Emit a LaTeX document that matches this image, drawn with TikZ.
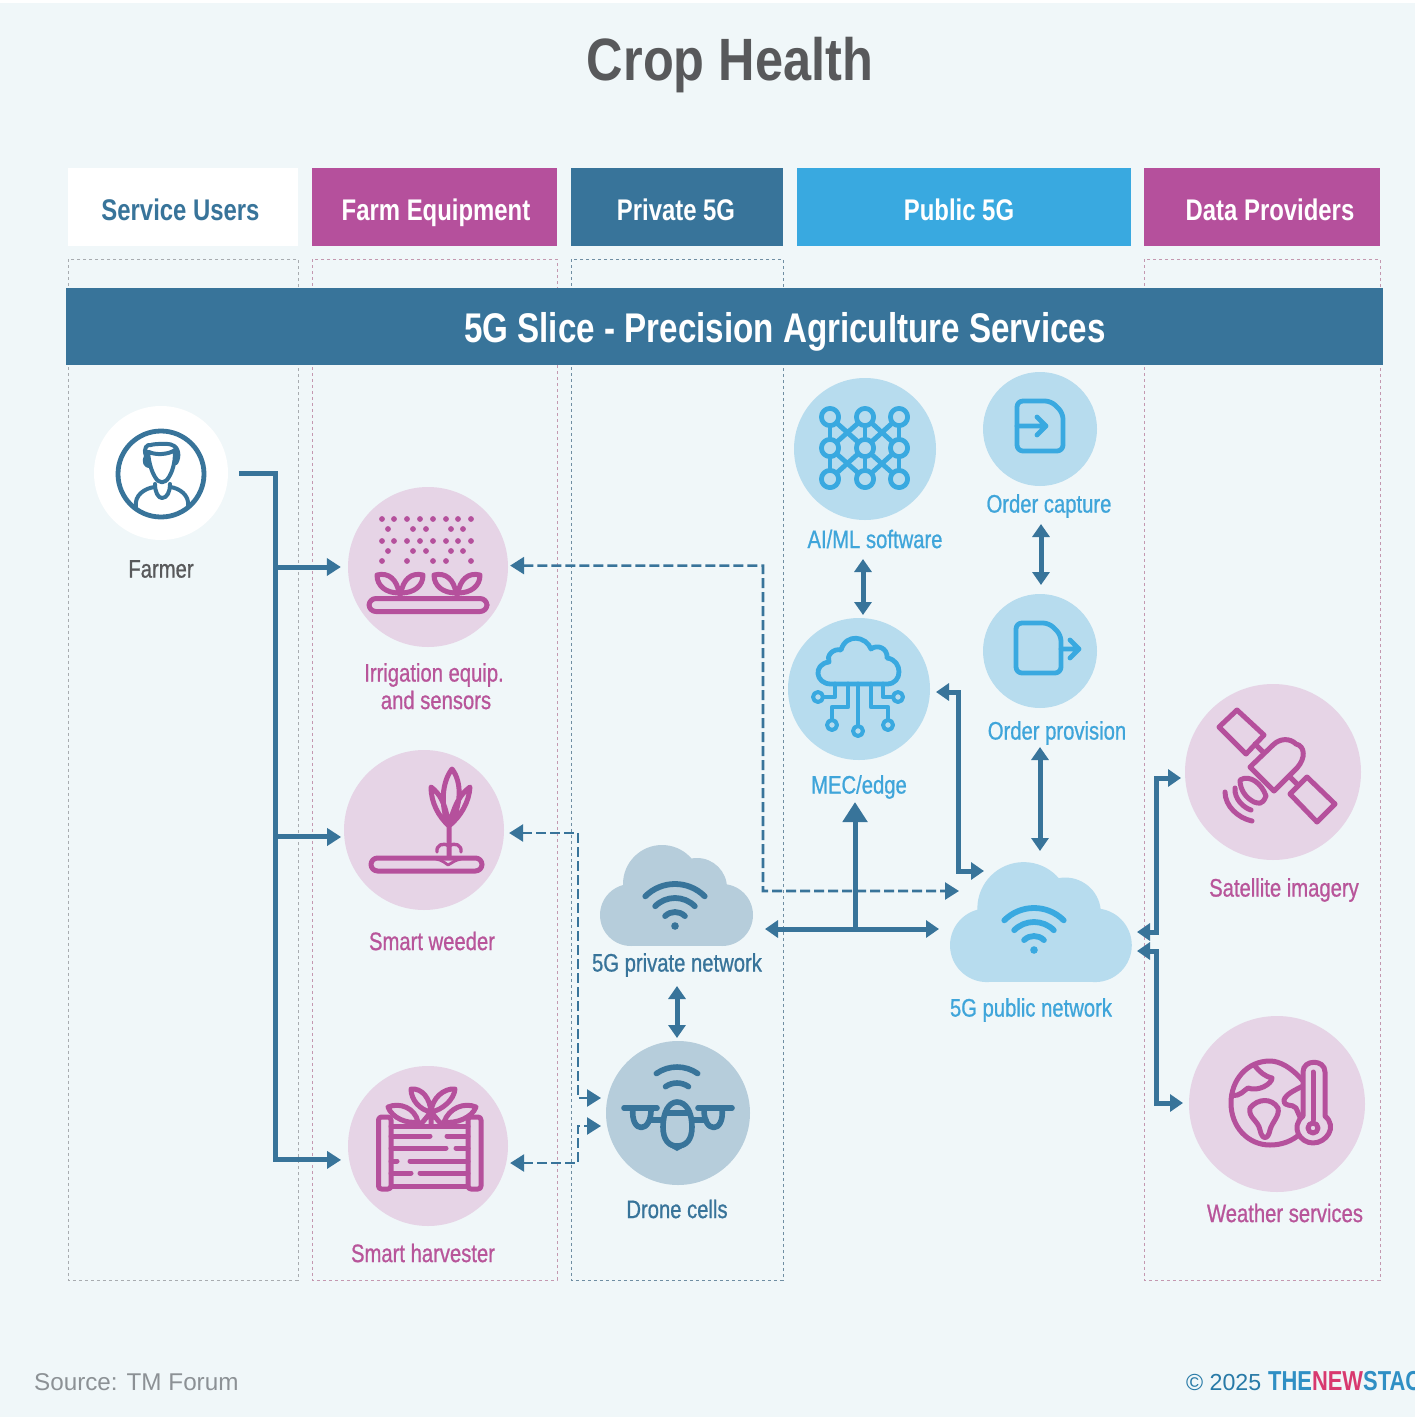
\documentclass[tikz,border=0pt]{standalone}
\usepackage{fontspec}
\usetikzlibrary{arrows.meta,calc}
\setmainfont{Liberation Sans}
\newfontfamily\cond[FakeStretch=0.8,FakeBold=0.8]{Liberation Sans}
\newfontfamily\condb[FakeStretch=0.8]{Liberation Sans Bold}
\newfontfamily\condt[FakeStretch=0.845]{Liberation Sans Bold}
\definecolor{bgc}{HTML}{F0F7F9}
\definecolor{steel}{HTML}{38749A}
\definecolor{sky}{HTML}{39A9E0}
\definecolor{skytx}{HTML}{3FA5DA}
\definecolor{mag}{HTML}{B5509C}
\definecolor{magtx}{HTML}{B8559A}
\definecolor{pinkc}{HTML}{E6D4E6}
\definecolor{bluec}{HTML}{B7DCEE}
\definecolor{steelc}{HTML}{B6CDDB}
\definecolor{greyt}{HTML}{58595B}
\definecolor{greys}{HTML}{8C9195}
\definecolor{logob}{HTML}{2F8FC4}
\definecolor{logor}{HTML}{D8396F}
\definecolor{boxg}{HTML}{A8ACB0}
\definecolor{boxp}{HTML}{C498B0}
\definecolor{boxs}{HTML}{6F8EA3}
\newcommand{\wifisign}[3]{%
  \fill[#3] (#1,#2) circle[radius=3.8];
  \foreach \r in {14,28,42}{
    \draw[#3,line width=.29cm,line cap=round] ({#1-0.707*\r},{#2-0.707*\r}) arc[start angle=135,end angle=45,radius=\r*0.05cm];
  }}
\newcommand{\cloudshape}[4]{%
  \begin{scope}[shift={(#1,#2)},scale=#3]
    \fill[#4] (-15,-11) circle[radius=39];
    \fill[#4] (20,-7) circle[radius=30];
    \fill[#4] (45,20) circle[radius=31];
    \fill[#4] (-46,20) circle[radius=31];
    \fill[#4] (-46,-5) rectangle (45,51);
  \end{scope}}
\tikzset{
  hdr/.style={minimum height=3.9cm,inner sep=0},
  hdrt/.style={inner sep=0,anchor=base,font=\condb\fontsize{42.5}{46}\selectfont,text=white},
  zone/.style={line width=.045cm,dash pattern=on .16cm off .14cm},
  disc/.style={circle,inner sep=0,minimum size=#1*0.1cm},
  lbl/.style={inner sep=0,align=center,font=\cond\fontsize{36}{40}\selectfont},
  conn/.style={draw=steel,line width=.25cm},
  dual/.style={conn,{Triangle[length=.65cm,width=.85cm]}-{Triangle[length=.65cm,width=.85cm]}},
  oneway/.style={conn,-{Triangle[length=.7cm,width=.85cm]}},
  dashc/.style={draw=steel,line width=.13cm,dash pattern=on .5cm off .2cm,{Triangle[length=.7cm,width=.85cm]}-{Triangle[length=.7cm,width=.85cm]}},
  gapS/.style={shorten <=#1*0.05cm},
  gapE/.style={shorten >=#1*0.05cm},
  icm/.style={draw=mag,line width=.25cm,line cap=round,line join=round},
  ics/.style={draw=sky,line width=.24cm,line cap=round,line join=round},
  ict/.style={draw=steel,line width=.28cm,line cap=round,line join=round},
}
\begin{document}
\begin{tikzpicture}[x=0.05cm,y=-0.05cm]
\useasboundingbox (0,0) rectangle (1415,1423);
\begin{scope}
\clip (0,0) rectangle (1415,1423);
\fill[white] (0,0) rectangle (1415,1423);
\fill[bgc] (0,3) rectangle (1415,1417);

\node[inner sep=0,anchor=base,font=\condt\fontsize{85}{90}\selectfont,text=greyt] (title) at (730,80) {Crop Health};

% dashed zones
\draw[zone,boxg] (68,259) rectangle (298,1280);
\draw[zone,boxp] (312,259) rectangle (557,1280);
\draw[zone,boxs] (571,259) rectangle (783,1280);
\draw[zone,boxp] (1144,259) rectangle (1380,1280);

% header tabs
\node[hdr,fill=white,minimum width=11.5cm] (h1) at (183,207) {};
\node[hdr,fill=mag,minimum width=12.25cm] (h2) at (434.5,207) {};
\node[hdr,fill=steel,minimum width=10.6cm] (h3) at (677,207) {};
\node[hdr,fill=sky,minimum width=16.7cm] (h4) at (963.5,207) {};
\node[hdr,fill=mag,minimum width=11.8cm] (h5) at (1262,207) {};
\node[hdrt,text=steel] (t1) at (180.5,220) {Service Users};
\node[hdrt] (t2) at (436,220) {Farm Equipment};
\node[hdrt] (t3) at (676,220) {Private 5G};
\node[hdrt] (t4) at (959,220) {Public 5G};
\node[hdrt] (t5) at (1270,220) {Data Providers};
\node[fill=steel,minimum width=65.85cm,minimum height=3.85cm,inner sep=0] (band) at (724.5,326.5) {};
\node[inner sep=0,anchor=base,font=\condb\fontsize{59}{64}\selectfont,text=white] (bandt) at (785,342) {5G Slice - Precision Agriculture Services};

% discs
\node[disc=67,fill=white] (farmer) at (161,473) {};
\node[disc=80,fill=pinkc] (irr) at (428,567) {};
\node[disc=80,fill=pinkc] (weed) at (424,830) {};
\node[disc=80,fill=pinkc] (harv) at (428,1146) {};
\node[disc=72,fill=steelc] (drone) at (678,1113) {};
\node[disc=71,fill=bluec] (ai) at (865,449) {};
\node[disc=57,fill=bluec] (capt) at (1040,429) {};
\node[disc=57,fill=bluec] (prov) at (1040,651) {};
\node[disc=71,fill=bluec] (mec) at (859,689) {};
\node[disc=88,fill=pinkc] (sat) at (1273,772) {};
\node[disc=88,fill=pinkc] (wea) at (1277,1104) {};

% clouds
\cloudshape{677}{895}{1}{steelc}
\cloudshape{1041.5}{921.5}{1.188}{bluec}
\node[inner sep=0,minimum width=7.7cm,minimum height=5cm] (priv) at (677,895) {};
\node[inner sep=0,minimum width=9.15cm,minimum height=6.1cm] (pub) at (1041.5,921) {};
\wifisign{675}{926}{steel}
\wifisign{1034}{950}{sky}

% labels
\node[lbl,text=greyt] (lfarmer) at (161,569) {Farmer};
\node[lbl,text=magtx] (lirr1) at (434,675) {Irrigation equip.};
\node[lbl,text=magtx] (lirr2) at (436,700) {and sensors};
\node[lbl,text=magtx] (lweed) at (432,941) {Smart weeder};
\node[lbl,text=magtx] (lharv) at (423,1253) {Smart harvester};
\node[lbl,text=steel] (lpriv) at (677,965) {5G private network};
\node[lbl,text=steel] (ldrone) at (677,1209) {Drone cells};
\node[lbl,text=skytx] (lai) at (875,539) {AI/ML software};
\node[lbl,text=skytx] (lcapt) at (1049,506) {Order capture};
\node[lbl,text=skytx] (lprov) at (1057,733) {Order provision};
\node[lbl,text=skytx] (lmec) at (859,787) {MEC/edge};
\node[lbl,text=skytx] (lpub) at (1031,1010) {5G public network};
\node[lbl,text=magtx] (lsat) at (1284,890) {Satellite imagery};
\node[lbl,text=magtx] (lwea) at (1285,1213) {Weather services};

% connectors: bend points
\coordinate (tr) at (275,473);
\coordinate (dA) at (763,565.6);
\coordinate (dB) at (763,891);
\coordinate (dEnd) at (959,891);
\coordinate (eA) at (578,833);
\coordinate (eB) at (578,1098);
\coordinate (eEnd) at (601,1098);
\coordinate (fB) at (578,1126);
\coordinate (fEnd) at (601,1126);
\coordinate (pL) at (765,929);
\coordinate (pR) at (939,929);
\coordinate (pM) at (855,929);
\coordinate (pU) at (855,802);
\coordinate (mA) at (936,692);
\coordinate (mB) at (958,692);
\coordinate (mC) at (958,871);
\coordinate (mEnd) at (984,871);
\coordinate (oA) at (1040,747);
\coordinate (oB) at (1040,851);
\coordinate (cA) at (1041,524);
\coordinate (cB) at (1041,585);
\coordinate (aA) at (863,559);
\coordinate (aB) at (863,615);
\coordinate (vA) at (677,986);
\coordinate (vB) at (677,1038);
\coordinate (sA) at (1137,932);
\coordinate (sB) at (1156,932);
\coordinate (sC) at (1156,778);
\coordinate (sEnd) at (1181,778);
\coordinate (wA) at (1137,951);
\coordinate (wB) at (1156,951);
\coordinate (wC) at (1156,1103);
\coordinate (wEnd) at (1183,1103);

\draw[oneway,gapS=11,gapE=8] (farmer.east) -- (tr) -- (tr |- harv.190) -- (harv.190);
\draw[oneway,gapE=7] (tr |- irr.west) -- (irr.west);
\draw[oneway,gapE=3] (tr |- weed.185) -- (weed.185);
\draw[dashc,gapS=2] (irr.1) -- (dA) -- (dB) -- (dEnd);
\draw[dashc,gapS=5] (weed.east |- eA) -- (eA) -- (eB) -- (eEnd);
\draw[dashc,gapS=2] (harv.east |- 0,1163) -- (578,1163) -- (fB) -- (fEnd);
\draw[dual] (pL) -- (pR);
\draw[conn,-{Triangle[length=1cm,width=1.2cm]}] (pM) -- (pU);
\draw[dual] (mA) -- (mB) -- (mC) -- (mEnd);
\draw[dual] (oA) -- (oB);
\draw[dual] (cA) -- (cB);
\draw[dual] (aA) -- (aB);
\draw[dual] (vA) -- (vB);
\draw[dual] (sA) -- (sB) -- (sC) -- (sEnd);
\draw[dual] (wA) -- (wB) -- (wC) -- (wEnd);

% farmer icon
\draw[draw=steel,line width=.24cm] (161,474) circle[radius=43];
\draw[draw=steel,line width=.2cm,line join=round,line cap=round]
  (148,452) .. controls (149,464) and (152,472) .. (155,477) .. controls (159,484) and (165,484) .. (169,477) .. controls (172,472) and (175,464) .. (175,452)
  (146,456) .. controls (143,448) and (147,444) .. (151,445) .. controls (152,444) and (170,443) .. (172,445) .. controls (179,447) and (180,457) .. (176,463)
  (149,452) .. controls (155,455) and (168,455) .. (175,450)
  (146,456) .. controls (143,462) and (146,466) .. (149,466)
  (155,484) .. controls (155,492) and (158,498) .. (162,498) .. controls (167,498) and (170,492) .. (170,484)
  (136,507) .. controls (134,495) and (145,488) .. (155,487)
  (188,507) .. controls (190,495) and (179,488) .. (170,487);

% irrigation icon
\foreach \yy in {519,541}{\foreach \xx in {382,394,407,420,433,446,458,471}{\fill[mag] (\xx,\yy) circle[radius=2.9];}}
\foreach \yy in {529,551}{\foreach \xx in {388,413,426,451,463}{\fill[mag] (\xx,\yy) circle[radius=2.9];}}
\foreach \xx in {382,407,433,446,471}{\fill[mag] (\xx,561) circle[radius=2.9];}
\draw[icm,rounded corners=.35cm] (369,598.5) rectangle (487,611.5);
\foreach \xx in {400,457}{
  \draw[icm] (\xx,598) -- (\xx,592)
    (\xx-1,593) .. controls (\xx-14,593) and (\xx-23,586) .. (\xx-23,575) .. controls (\xx-11,572) and (\xx-3,580) .. (\xx-1,593)
    (\xx+1,593) .. controls (\xx+14,593) and (\xx+23,586) .. (\xx+23,575) .. controls (\xx+11,572) and (\xx+3,580) .. (\xx+1,593);
}

% weeder icon
\draw[icm,rounded corners=.33cm] (371,858) rectangle (482,871);
\draw[icm,line width=.14cm] (436,859) .. controls (442,860) and (445,863) .. (448,865) .. controls (452,863) and (455,860) .. (461,859);
\draw[icm] (449,826) .. controls (440,805) and (442,782) .. (452,769) .. controls (462,782) and (462,805) .. (449,826)
  (449,826) .. controls (438,816) and (431,802) .. (431,787) .. controls (440,794) and (445,802) .. (449,826)
  (449,826) .. controls (461,816) and (469,802) .. (470,787) .. controls (461,794) and (455,802) .. (449,826)
  (449,826) -- (449,857);
\draw[icm,line width=.17cm] (449,846) .. controls (443,842) and (436,845) .. (437,852)
  (449,846) .. controls (455,842) and (462,845) .. (461,852);

% harvester icon
\draw[icm,rounded corners=.15cm] (378.5,1117) rectangle (391,1189);
\draw[icm,rounded corners=.15cm] (468,1117) rectangle (481,1189);
\draw[icm] (391,1126) -- (468,1126) (391,1186) -- (468,1186)
  (391,1136) -- (430,1136) (447,1136) -- (468,1136)
  (391,1148) -- (446,1148) (456,1148) -- (468,1148)
  (391,1161) -- (397,1161) (410,1161) -- (468,1161)
  (391,1173) -- (411,1173) (420,1173) -- (468,1173);
\draw[icm] (431,1112) .. controls (420,1110) and (411,1100) .. (411,1089) .. controls (422,1088) and (430,1098) .. (431,1112)
  (431,1112) .. controls (442,1110) and (454,1100) .. (455,1089) .. controls (444,1088) and (432,1098) .. (431,1112)
  (418,1122) .. controls (407,1124) and (392,1118) .. (388,1107) .. controls (400,1102) and (415,1108) .. (418,1122)
  (444,1122) .. controls (455,1124) and (472,1118) .. (476,1107) .. controls (464,1102) and (449,1108) .. (444,1122)
  (431,1112) -- (431,1124) (431,1112) -- (421,1124) (431,1112) -- (441,1124);

% drone icon
\draw[ict] (624,1108) -- (657,1108) (698,1108) -- (732,1108);
\draw[ict] (633,1108) .. controls (630,1134) and (652,1134) .. (651,1108);
\draw[ict] (704,1108) .. controls (703,1134) and (725,1134) .. (722,1108);
\draw[ict] (650,1120) -- (664,1120) (692,1120) -- (706,1120);
\draw[ict,fill=steelc] (663,1127) .. controls (663,1112) and (669,1102) .. (677,1102) .. controls (686,1102) and (692,1112) .. (692,1127) .. controls (692,1140) and (686,1146) .. (677,1146) .. controls (669,1146) and (663,1140) .. (663,1127);
\draw[ict] (666,1113) -- (689,1113);
\fill[steel] (668,1146) -- (686,1146) -- (677,1151) -- cycle;
\draw[ict] ({677-0.5736*36},{1103-0.819*36}) arc[start angle=125,end angle=55,radius=1.8cm];
\draw[ict] ({677-0.5736*20},{1103-0.819*20}) arc[start angle=125,end angle=55,radius=1cm];

% AI/ML icon
\draw[ics] (830,417) -- (830,479) (865,417) -- (865,479) (899,417) -- (899,479);
\draw[ics] (830,417) -- (899,479) (899,417) -- (830,479)
  (865,417) -- (830,448) -- (865,479) -- (899,448) -- cycle
  (830,417) -- (865,448) (899,417) -- (865,448);
\foreach \xx in {830,865,899}{\foreach \yy in {417,448,479}{
  \draw[ics,fill=bluec] (\xx,\yy) circle[radius=8.6];
}}

% order capture icon
\draw[ics,rounded corners=.3cm] (1017,401) -- (1051,401) -- (1063,413) -- (1063,451) -- (1017,451) -- cycle;
\draw[ics] (1017,426) -- (1046,426) (1037,417) -- (1046,426) -- (1037,435);

% order provision icon
\draw[ics,rounded corners=.3cm] (1016,623) -- (1049,623) -- (1061,635) -- (1061,673) -- (1016,673) -- cycle;
\draw[ics] (1061,649) -- (1079,649) (1070,640) -- (1079,649) -- (1070,658);

% MEC icon
\draw[ics] (831,684) -- (887,684) .. controls (903,684) and (903,660) .. (887,658) .. controls (888,648) and (877,644) .. (871,649) .. controls (866,636) and (846,633) .. (841,650) .. controls (833,648) and (826,656) .. (829,662) .. controls (813,664) and (815,684) .. (831,684) -- cycle;
\draw[ics] (835,684) -- (835,697) -- (824,697)
  (848,684) -- (848,707) -- (832,707) -- (832,719)
  (858,684) -- (858,724)
  (871,684) -- (871,707) -- (888,707) -- (888,719)
  (883,684) -- (883,697) -- (892,697);
\foreach \xx/\yy in {818/697,898/697,832/725,858/731,888/725}{\draw[ics,line width=.2cm] (\xx,\yy) circle[radius=5];}

% satellite icon
\draw[icm] (1237,710) -- (1264,735) -- (1246,754) -- (1219,727) -- cycle;
\draw[icm] (1307,777) -- (1335,804) -- (1317,822) -- (1290,794) -- cycle;
\draw[icm] (1255,744) -- (1264,753) (1290,777) -- (1298,785);
\draw[icm] (1250,767) -- (1274,791) -- (1297,768) .. controls (1306,758) and (1305,746) .. (1296,744) .. controls (1290,738) and (1280,738) .. (1273,745) -- cycle;
\draw[icm] (1240,780) .. controls (1250,774) and (1262,784) .. (1266,796) .. controls (1262,806) and (1258,803) .. (1254,802) .. controls (1246,798) and (1240,790) .. (1240,780) -- cycle;
\draw[icm] (1235,788) .. controls (1234,799) and (1244,808) .. (1251,810);
\draw[icm] (1225,792) .. controls (1225,806) and (1238,818) .. (1252,821);

% weather icon
\draw[icm] (1303,1081) .. controls (1292,1068) and (1280,1061) .. (1270,1061) .. controls (1247,1061) and (1231,1080) .. (1231,1103) .. controls (1231,1127) and (1248,1145) .. (1270,1145) .. controls (1282,1145) and (1292,1141) .. (1300,1134);
\draw[icm] (1232,1095) .. controls (1240,1097) and (1244,1090) .. (1248,1088) .. controls (1258,1092) and (1272,1084) .. (1272,1078) .. controls (1264,1076) and (1260,1072) .. (1255,1066);
\draw[icm] (1250,1108) .. controls (1258,1098) and (1272,1098) .. (1278,1108) .. controls (1280,1116) and (1272,1122) .. (1270,1130) .. controls (1268,1140) and (1262,1140) .. (1260,1130) .. controls (1258,1120) and (1248,1118) .. (1250,1108);
\draw[icm] (1303,1086) .. controls (1295,1090) and (1286,1094) .. (1284,1100) .. controls (1284,1108) and (1292,1103) .. (1296,1108) -- (1303,1124);
\draw[icm,fill=pinkc] (1303,1072) .. controls (1303,1059) and (1325,1059) .. (1325,1072) -- (1325,1116) .. controls (1338,1127) and (1326,1143) .. (1313,1143) .. controls (1300,1143) and (1290,1127) .. (1303,1116) -- cycle;
\draw[icm] (1313,1072) -- (1313,1120);
\draw[icm] (1313,1128) circle[radius=5];

% footer
\node[inner sep=0,anchor=west,font=\fontsize{34.5}{40}\selectfont,text=greys] (src) at (34,1382) {Source: TM Forum};
\node[inner sep=0,anchor=west,font=\fontsize{33}{40}\selectfont,text=logob!85!black] (copy) at (1186,1382) {© 2025};
\node[inner sep=0,anchor=west,font=\condb\fontsize{39}{40}\selectfont] (logo) at (1268,1381) {\textcolor{logob}{THE}\textcolor{logor}{NEW}\textcolor{logob}{STACK}};
\end{scope}
\end{tikzpicture}
\end{document}
